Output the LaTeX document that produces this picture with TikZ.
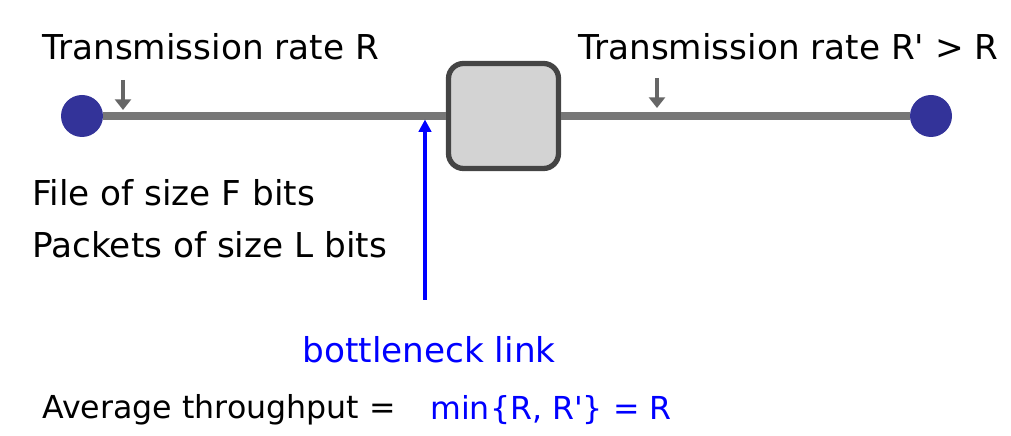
\documentclass[tikz,border=0pt]{standalone}
\usepackage{fontspec}
\setmainfont{DejaVu Sans}
\usepackage{tikz}
\usetikzlibrary{arrows.meta,positioning}
\definecolor{hostblue}{HTML}{333399}
\definecolor{linkgray}{HTML}{777777}
\definecolor{boxgray}{HTML}{D3D3D3}
\definecolor{boxedge}{HTML}{444444}
\definecolor{labblue}{HTML}{0000FF}

\begin{document}
\begin{tikzpicture}[
    host/.style={circle,fill=hostblue,minimum size=0.84cm,inner sep=0pt},
    router/.style={draw=boxedge,line width=3pt,fill=boxgray,rounded corners=0.3cm,minimum width=2.2cm,minimum height=2.1cm},
    link/.style={linkgray,line width=4pt},
    pointer/.style={-{Triangle[length=6pt,width=9pt]},gray!80!black,line width=2pt},
    lab/.style={font=\fontsize{19.5}{23}\selectfont,inner sep=0pt,anchor=west},
    eqlab/.style={font=\fontsize{18}{22}\selectfont,inner sep=0pt,anchor=west}
  ]
  \useasboundingbox (0,0) rectangle (20.22,8.72);
  % hosts and router
  \node[host] (src) at (1.64,6.40) {};
  \node[host] (dst) at (18.62,6.40) {};
  \node[router] (rt) at (10.07,6.40) {};
  \draw[link] (src) -- (rt);
  \draw[link] (rt) -- (dst);
  \coordinate (neck) at (8.50,6.33);
  \coordinate (neckfoot) at (8.50,2.72);

  % rate labels
  \node[lab] (rateA) at (0.84,7.78) {Transmission rate R};
  \node[lab] (rateB) at (11.56,7.78) {Transmission rate R\textquotesingle\ > R};
  \coordinate (tailA) at (2.46,7.12);
  \coordinate (tipA) at (2.46,6.52);
  \coordinate (tailB) at (13.14,7.16);
  \coordinate (tipB) at (13.14,6.56);
  \draw[pointer] (tailA) -- (tipA);
  \draw[pointer] (tailB) -- (tipB);

  % file info
  \node[lab] (file) at (0.64,4.86) {File of size F bits};
  \node[lab] (pkts) at (0.64,3.82) {Packets of size L bits};

  % bottleneck
  \node[lab,text=labblue,anchor=center] (neckl) at (8.58,1.72) {bottleneck link};
  \draw[-{Triangle[length=7pt,width=7pt]},labblue,line width=2pt] (neckfoot) -- (neck);

  % throughput
  \node[eqlab] (avg) at (0.84,0.52) {Average throughput =};
  \node[eqlab,text=labblue] (minr) at (8.60,0.52) {min\{R, R\textquotesingle\} = R};
\end{tikzpicture}
\end{document}
